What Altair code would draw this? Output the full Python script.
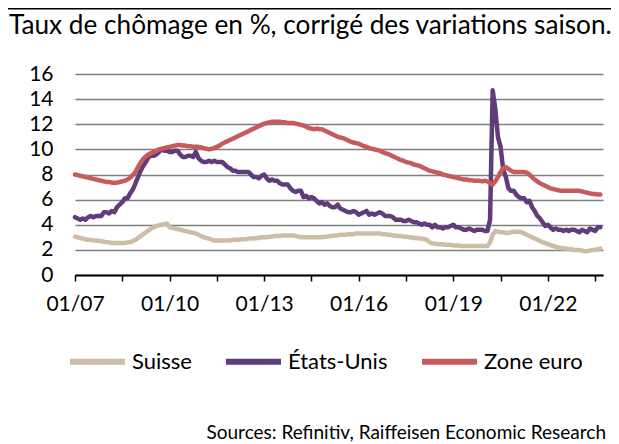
import altair as alt
import pandas as pd

# Monthly values, Jan 2007 .. Sep 2023 (201 months)
suisse = [
    3.05, 3.0, 2.95, 2.9, 2.85, 2.8, 2.8, 2.75, 2.75, 2.7, 2.7, 2.65,      # 2007
    2.6, 2.6, 2.55, 2.55, 2.55, 2.55, 2.55, 2.55, 2.6, 2.6, 2.7, 2.8,      # 2008
    2.95, 3.1, 3.25, 3.4, 3.55, 3.7, 3.8, 3.9, 3.95, 4.0, 4.05, 4.1,       # 2009
    3.8, 3.75, 3.7, 3.65, 3.6, 3.55, 3.5, 3.45, 3.4, 3.35, 3.3, 3.2,       # 2010
    3.1, 3.0, 2.95, 2.9, 2.8, 2.75, 2.75, 2.75, 2.75, 2.75, 2.75, 2.75,    # 2011
    2.8, 2.8, 2.8, 2.85, 2.85, 2.85, 2.9, 2.9, 2.9, 2.95, 2.95, 3.0,       # 2012
    3.0, 3.0, 3.05, 3.05, 3.1, 3.1, 3.1, 3.15, 3.15, 3.15, 3.15, 3.15,     # 2013
    3.1, 3.05, 3.0, 3.0, 3.0, 3.0, 3.0, 3.0, 3.0, 3.0, 3.0, 3.05,          # 2014
    3.05, 3.1, 3.1, 3.15, 3.15, 3.2, 3.2, 3.2, 3.25, 3.25, 3.25, 3.3,      # 2015
    3.3, 3.3, 3.3, 3.3, 3.3, 3.3, 3.3, 3.3, 3.3, 3.25, 3.25, 3.2,          # 2016
    3.2, 3.15, 3.15, 3.1, 3.1, 3.05, 3.05, 3.0, 3.0, 2.95, 2.95, 2.9,      # 2017
    2.9, 2.85, 2.8, 2.6, 2.5, 2.5, 2.45, 2.45, 2.45, 2.4, 2.4, 2.4,        # 2018
    2.35, 2.35, 2.35, 2.3, 2.3, 2.3, 2.3, 2.3, 2.3, 2.3, 2.3, 2.3,         # 2019
    2.3, 2.3, 2.6, 3.2, 3.5, 3.45, 3.4, 3.4, 3.35, 3.35, 3.4, 3.45,        # 2020
    3.45, 3.45, 3.4, 3.3, 3.2, 3.1, 3.0, 2.9, 2.8, 2.7, 2.6, 2.55,         # 2021
    2.45, 2.4, 2.3, 2.25, 2.2, 2.15, 2.1, 2.1, 2.05, 2.05, 2.0, 2.0,       # 2022
    2.0, 1.95, 1.9, 1.9, 1.95, 2.0, 2.0, 2.05, 2.1,                        # 2023
]
etats_unis = [
    4.6, 4.5, 4.4, 4.5, 4.4, 4.6, 4.7, 4.6, 4.7, 4.7, 4.7, 5.0,
    5.0, 4.9, 5.1, 5.0, 5.4, 5.6, 5.8, 6.1, 6.1, 6.5, 6.8, 7.3,
    7.8, 8.3, 8.7, 9.0, 9.4, 9.5, 9.5, 9.6, 9.8, 10.0, 9.9, 9.9,
    9.8, 9.8, 9.9, 9.9, 9.6, 9.4, 9.4, 9.5, 9.5, 9.4, 9.8, 9.3,
    9.1, 9.0, 9.0, 9.1, 9.0, 9.1, 9.0, 9.0, 9.0, 8.8, 8.6, 8.5,
    8.3, 8.3, 8.2, 8.2, 8.2, 8.2, 8.2, 8.0, 7.8, 7.8, 7.7, 7.9,
    8.0, 7.7, 7.5, 7.6, 7.5, 7.5, 7.3, 7.2, 7.2, 7.2, 6.9, 6.7,
    6.6, 6.7, 6.7, 6.2, 6.3, 6.1, 6.2, 6.1, 5.9, 5.7, 5.8, 5.6,
    5.7, 5.5, 5.4, 5.4, 5.6, 5.3, 5.2, 5.1, 5.0, 5.0, 5.1, 5.0,
    4.8, 4.9, 5.0, 5.1, 4.8, 4.9, 4.8, 4.9, 5.0, 4.9, 4.7, 4.7,
    4.7, 4.6, 4.4, 4.4, 4.4, 4.3, 4.3, 4.4, 4.3, 4.2, 4.2, 4.1,
    4.0, 4.1, 4.0, 4.0, 3.8, 4.0, 3.8, 3.8, 3.7, 3.8, 3.8, 3.9,
    4.0, 3.8, 3.8, 3.7, 3.6, 3.6, 3.7, 3.6, 3.5, 3.6, 3.6, 3.6,
    3.5, 3.5, 4.4, 14.7, 13.2, 11.0, 10.2, 8.4, 7.8, 6.9, 6.7, 6.7,
    6.4, 6.2, 6.1, 6.1, 5.8, 5.9, 5.4, 5.1, 4.7, 4.5, 4.2, 3.9,
    4.0, 3.8, 3.6, 3.7, 3.6, 3.6, 3.5, 3.6, 3.5, 3.6, 3.6, 3.5,
    3.4, 3.6, 3.5, 3.4, 3.7, 3.6, 3.5, 3.8, 3.8,
]
zone_euro = [
    8.0, 7.95, 7.9, 7.85, 7.8, 7.75, 7.7, 7.65, 7.6, 7.55, 7.5, 7.45,
    7.4, 7.4, 7.35, 7.35, 7.35, 7.4, 7.45, 7.5, 7.6, 7.75, 7.95, 8.2,
    8.6, 8.95, 9.25, 9.45, 9.6, 9.7, 9.8, 9.9, 10.0, 10.05, 10.1, 10.15,
    10.2, 10.25, 10.3, 10.35, 10.35, 10.3, 10.3, 10.25, 10.25, 10.2, 10.2, 10.2,
    10.15, 10.1, 10.05, 10.0, 10.05, 10.1, 10.2, 10.3, 10.45, 10.55, 10.65, 10.75,
    10.85, 10.95, 11.05, 11.15, 11.25, 11.35, 11.45, 11.55, 11.65, 11.75, 11.85, 11.95,
    12.05, 12.1, 12.15, 12.2, 12.2, 12.2, 12.2, 12.15, 12.15, 12.1, 12.1, 12.1,
    12.05, 12.0, 11.95, 11.9, 11.8, 11.7, 11.65, 11.6, 11.65, 11.6, 11.6, 11.5,
    11.4, 11.3, 11.2, 11.1, 11.0, 10.95, 10.9, 10.8, 10.7, 10.6, 10.55, 10.5,
    10.45, 10.35, 10.25, 10.2, 10.1, 10.05, 10.0, 9.95, 9.9, 9.8, 9.7, 9.65,
    9.55, 9.45, 9.35, 9.25, 9.15, 9.1, 9.0, 8.95, 8.9, 8.8, 8.75, 8.7,
    8.6, 8.5, 8.4, 8.3, 8.25, 8.2, 8.15, 8.1, 8.0, 7.95, 7.9, 7.85,
    7.8, 7.75, 7.7, 7.65, 7.6, 7.6, 7.55, 7.55, 7.5, 7.5, 7.5, 7.45,
    7.5, 7.45, 7.3, 7.2, 7.45, 7.8, 8.2, 8.5, 8.6, 8.45, 8.3, 8.2,
    8.2, 8.2, 8.2, 8.2, 8.15, 8.0, 7.8, 7.6, 7.45, 7.3, 7.2, 7.1,
    7.0, 6.9, 6.85, 6.8, 6.75, 6.7, 6.7, 6.7, 6.7, 6.7, 6.7, 6.7,
    6.7, 6.65, 6.6, 6.55, 6.5, 6.45, 6.45, 6.4, 6.4,
]

series_names = ["Suisse", "États-Unis", "Zone euro"]
series_colors = ["#CDBCA8", "#5E3D7A", "#C65B5B"]
x_tick_labels = ["01/07", "01/10", "01/13", "01/16", "01/19", "01/22"]
title_text = "Taux de chômage en %, corrigé des variations saison."
source_text = "Sources: Refinitiv, Raiffeisen Economic Research"

rows = []
for name, vals in zip(series_names, [suisse, etats_unis, zone_euro]):
    for i, v in enumerate(vals):
        rows.append({"m": i, "serie": name, "valeur": v})
df = pd.DataFrame(rows)

FONT = "Lato"
label_list = "[" + ",".join("'%s'" % s for s in x_tick_labels) + "]"
label_expr = "datum.value % 36 == 0 ? " + label_list + "[datum.value / 36] : ''"

lines = alt.Chart(df).mark_line(strokeWidth=4.5, strokeJoin="round", strokeCap="round").encode(
    x=alt.X("m:Q", scale=alt.Scale(domain=[0, 201], nice=False, zero=False),
            axis=alt.Axis(values=list(range(0, 200, 18)), labelExpr=label_expr, title=None,
                          grid=False, domainColor="black", domainWidth=1.8, tickColor="black",
                          tickWidth=1.5, tickSize=6, labelFont=FONT, labelFontSize=21,
                          labelColor="black", labelPadding=12, labelFlush=False)),
    y=alt.Y("valeur:Q", scale=alt.Scale(domain=[0, 16], nice=False),
            axis=alt.Axis(values=list(range(0, 17, 2)), title=None, domain=False, ticks=False,
                          gridColor="#7f7f7f", gridWidth=1.3, labelFont=FONT, labelFontSize=21,
                          labelColor="black", labelPadding=22)),
    color=alt.Color("serie:N", scale=alt.Scale(domain=series_names, range=series_colors),
                    legend=alt.Legend(title=None, orient="none", direction="horizontal",
                                      legendX=-8, legendY=257, symbolType="stroke",
                                      symbolSize=3025, symbolStrokeWidth=6, labelFont=FONT,
                                      labelFontSize=22, labelColor="black", labelOffset=4,
                                      columnPadding=22, padding=0)),
    order=alt.Order("m:Q"),
)

texts = pd.DataFrame({"t": [title_text, source_text]})
top_rule = alt.Chart(texts).transform_filter("datum.t == '" + source_text + "'").mark_rule(
    color="black", strokeWidth=2.2).encode(x=alt.value(-67), x2=alt.value(536), y=alt.value(-65.5))
title = alt.Chart(texts).transform_filter("datum.t == '" + source_text + "' ? false : true").mark_text(
    font=FONT, fontSize=26.2, align="left", baseline="alphabetic", color="black").encode(
    x=alt.value(-66), y=alt.value(-40.3), text="t:N")
source = alt.Chart(texts).transform_filter("datum.t == '" + source_text + "'").mark_text(
    font=FONT, fontSize=19, align="right", baseline="alphabetic", color="black").encode(
    x=alt.value(531), y=alt.value(365), text="t:N")

chart = alt.layer(lines, top_rule, title, source).properties(
    width=528, height=201,
    autosize=alt.AutoSizeParams(type="none"),
    padding={"left": 67, "top": 66, "right": 8, "bottom": 180},
).configure_view(stroke=None)

chart.save("out.html", embed_options={"renderer": "svg", "actions": False})
